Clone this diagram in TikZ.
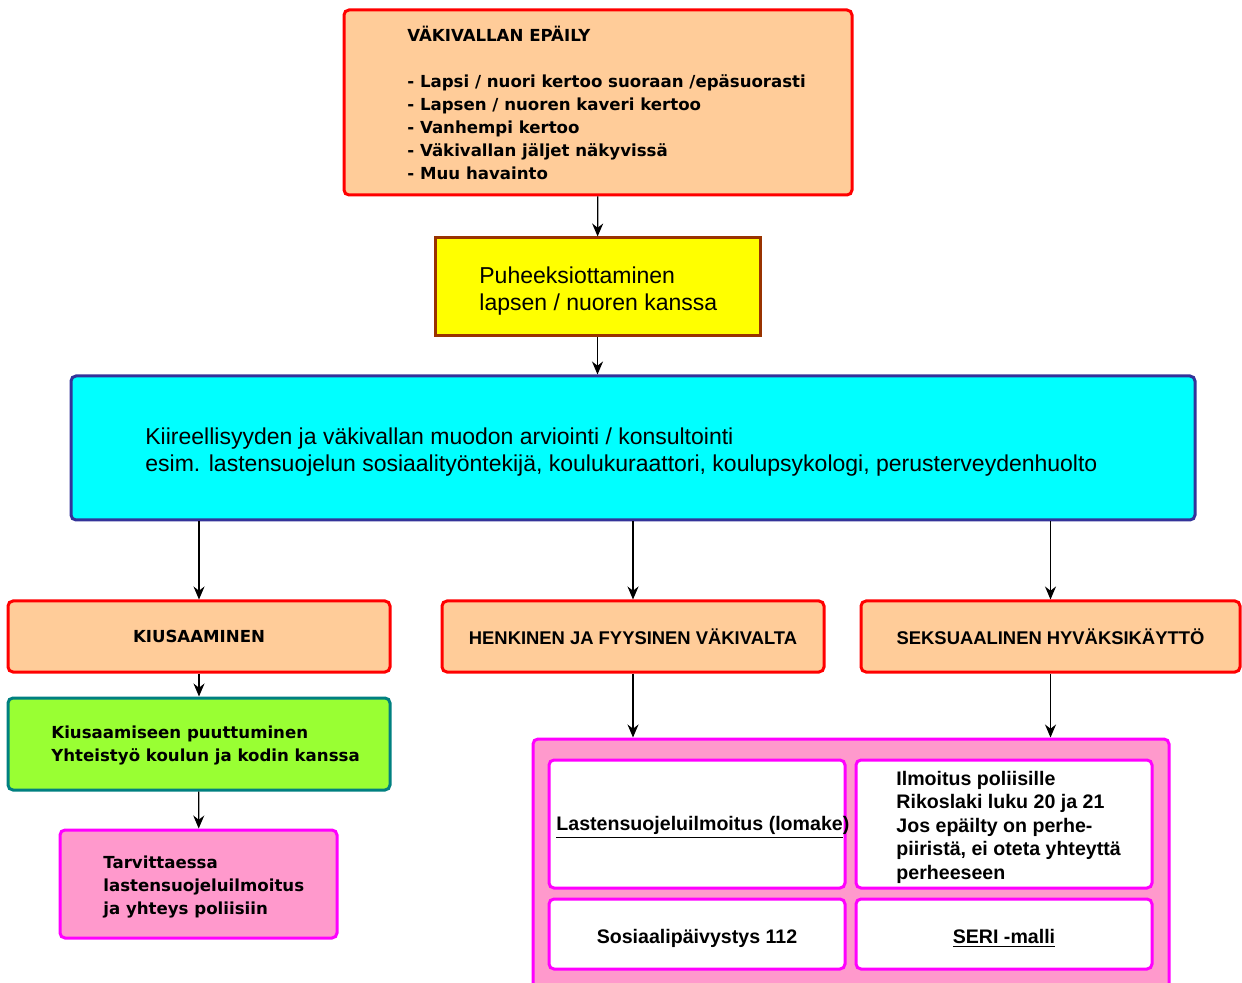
\documentclass[tikz,border=0pt]{standalone}
\usepackage{fontspec}
\setmainfont{DejaVu Sans}
\newfontfamily\arialf{Liberation Sans}
\usetikzlibrary{arrows.meta}
\definecolor{peach}{HTML}{FFCC99}
\definecolor{kelta}{HTML}{FFFF00}
\definecolor{ruskea}{HTML}{993300}
\definecolor{syaani}{HTML}{00FFFF}
\definecolor{sini}{HTML}{333399}
\definecolor{vihrea}{HTML}{99FF33}
\definecolor{turkoosi}{HTML}{008080}
\definecolor{roosa}{HTML}{FF99CC}
\definecolor{magenta}{HTML}{FF00FF}
\tikzset{
  box/.style={draw, line width=1.5pt, rounded corners=2.5pt, inner sep=0pt},
  isoteksti/.style={font=\bfseries\fontsize{8.3}{11.5}\selectfont},
  arialteksti/.style={font=\arialf\fontsize{11.5}{13.5}\selectfont},
  pieniteksti/.style={font=\arialf\bfseries\fontsize{9.8}{11.75}\selectfont},
  otsikko/.style={font=\arialf\bfseries\fontsize{9.2}{11}\selectfont},
  teksti/.style={anchor=west, align=left, inner sep=0pt},
  nuoli/.style={-{Stealth[length=6.5pt,width=5.5pt]}, line width=0.6pt}
}
\begin{document}
\begin{tikzpicture}[x=0.5pt,y=-0.5pt]
    \useasboundingbox (0,0) rectangle (1242,983);
    \clip (0,0) rectangle (1242,983);
    % laatikot
    \node[box, draw=red, fill=peach, minimum width=254pt, minimum height=92.5pt] (epaily) at (598,102.5) {};
    \node[box, rounded corners=0pt, draw=ruskea, fill=kelta, minimum width=162.5pt, minimum height=49pt] (puhe) at (597.5,287) {};
    \node[box, draw=sini, fill=syaani, minimum width=562pt, minimum height=72pt] (kiire) at (633,448) {};
    \node[box, draw=red, fill=peach, minimum width=191pt, minimum height=35.5pt, isoteksti] (kius) at (199,636.5) {KIUSAAMINEN};
    \node[box, draw=red, fill=peach, minimum width=191pt, minimum height=35.5pt, otsikko] (henk) at (633,636.5) {HENKINEN JA FYYSINEN VÄKIVALTA};
    \node[box, draw=red, fill=peach, minimum width=189.5pt, minimum height=35.5pt, otsikko] (seks) at (1050.5,636.5) {SEKSUAALINEN HYVÄKSIKÄYTTÖ};
    \node[box, draw=turkoosi, fill=vihrea, minimum width=191pt, minimum height=46pt] (vihr) at (199,744) {};
    \node[box, draw=magenta, fill=roosa, minimum width=138.5pt, minimum height=54pt] (tarv) at (198.5,884) {};
    \node[box, draw=magenta, fill=roosa, minimum width=318pt, minimum height=130.5pt] (cont) at (851,869.5) {};
    \node[box, draw=magenta, fill=white, minimum width=148pt, minimum height=64pt] (lsi) at (697,824) {};
    \node[box, draw=magenta, fill=white, minimum width=148pt, minimum height=64pt] (ilmo) at (1004,824) {};
    \node[box, draw=magenta, fill=white, minimum width=148pt, minimum height=35pt, pieniteksti, text height=11pt, text depth=2pt] (sos) at (697,934) {Sosiaalipäivystys 112};
    \node[box, draw=magenta, fill=white, minimum width=148pt, minimum height=35pt, pieniteksti, text height=11pt, text depth=2pt] (seri) at (1004,934) {\underline{SERI -malli}};
    % tekstit
    \node[teksti, isoteksti] (epailyT) at (407,102.5) {VÄKIVALLAN EPÄILY\\[11.5pt]
        - Lapsi / nuori kertoo suoraan /epäsuorasti\\
        - Lapsen / nuoren kaveri kertoo\\
        - Vanhempi kertoo\\
        - Väkivallan jäljet näkyvissä\\
        - Muu havainto};
    \node[teksti, arialteksti] (puheT) at (479,291.5) {Puheeksiottaminen\\lapsen / nuoren kanssa};
    \node[teksti, arialteksti] (kiireT) at (145,452.5) {Kiireellisyyden ja väkivallan muodon arviointi / konsultointi\\
        esim. lastensuojelun sosiaalityöntekijä, koulukuraattori, koulupsykologi, perusterveydenhuolto};
    \node[teksti, isoteksti] (vihrT) at (51,745.5) {Kiusaamiseen puuttuminen\\Yhteistyö koulun ja kodin kanssa};
    \node[teksti, isoteksti] (tarvT) at (103,886.5) {Tarvittaessa\\lastensuojeluilmoitus\\ja yhteys poliisiin};
    \node[teksti, pieniteksti] (lsiT) at (556,827) {\underline{Lastensuojeluilmoitus (lomake})};
    \node[teksti, pieniteksti] (ilmoT) at (896,827) {Ilmoitus poliisille\\Rikoslaki luku 20 ja 21\\Jos epäilty on perhe-\\piiristä, ei oteta yhteyttä\\perheeseen};
    % nuolet
    \draw[nuoli] (epaily) -- (puhe);
    \draw[nuoli] (puhe.south) -- (puhe.south |- kiire.north);
    \draw[nuoli] (kiire.south -| kius.north) -- (kius.north);
    \draw[nuoli] (kiire.south -| henk.north) -- (henk.north);
    \draw[nuoli] (kiire.south -| seks.north) -- (seks.north);
    \draw[nuoli] (kius) -- (vihr);
    \draw[nuoli] (vihr) -- (tarv);
    \draw[nuoli] (henk.south) -- (henk.south |- cont.north);
    \draw[nuoli] (seks.south) -- (seks.south |- cont.north);
\end{tikzpicture}
\end{document}
